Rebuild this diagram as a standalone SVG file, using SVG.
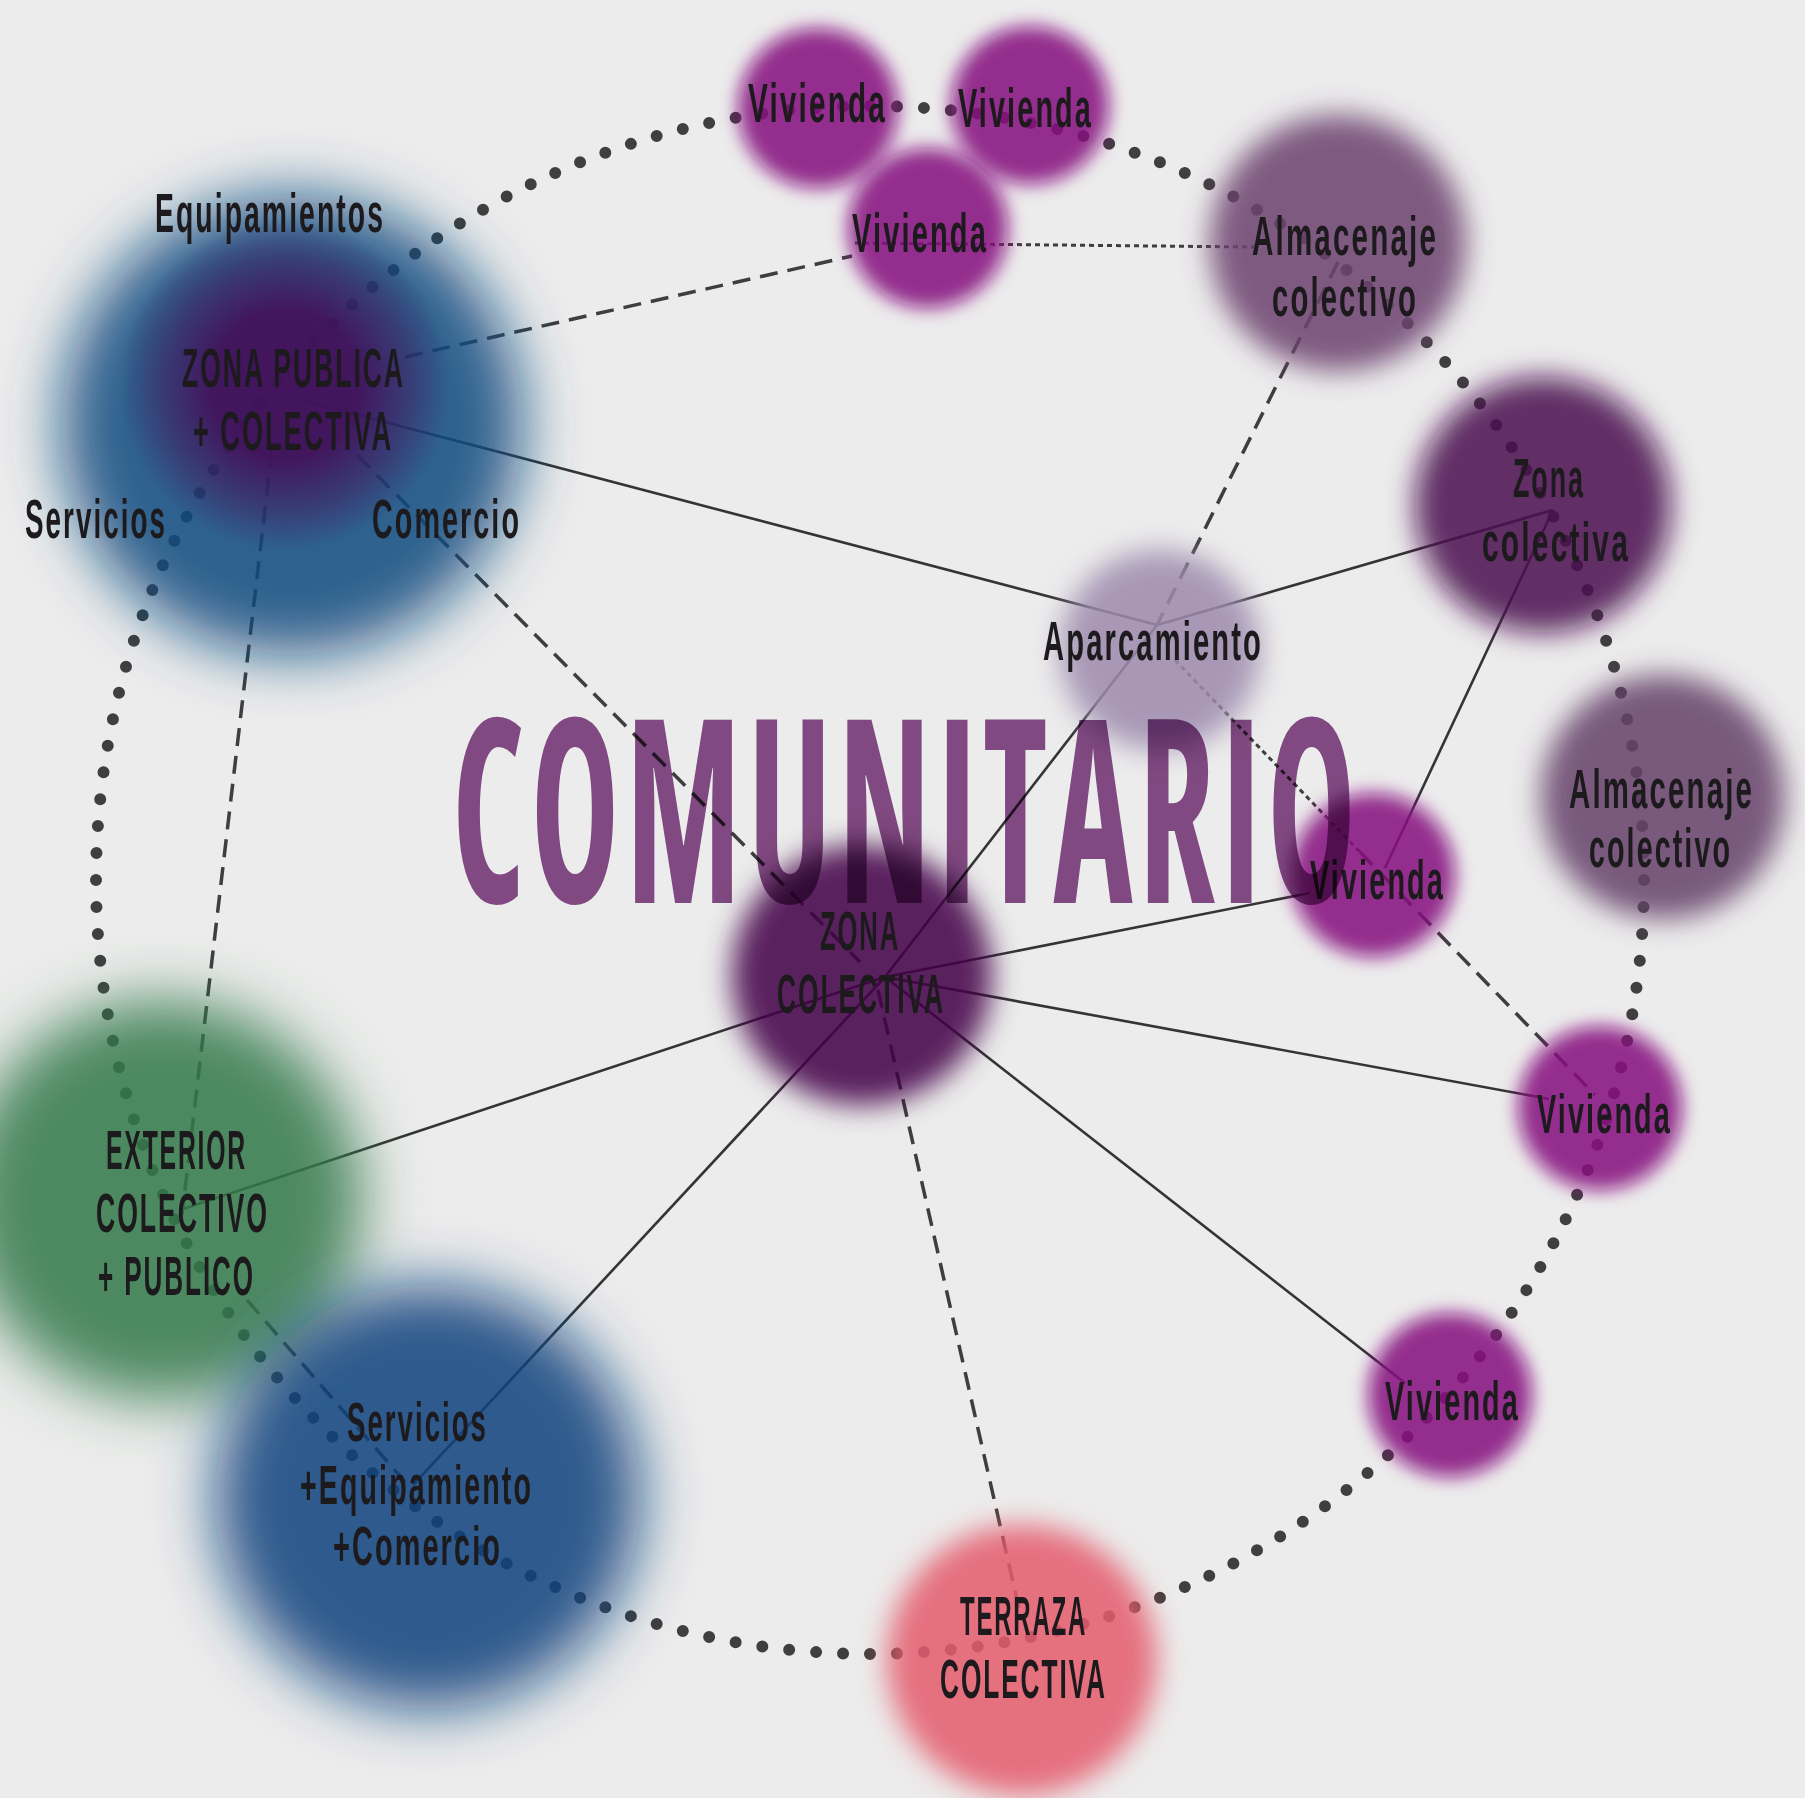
<svg xmlns="http://www.w3.org/2000/svg" width="1805" height="1798" viewBox="0 0 1805 1798">
<defs>
<style>
.lbl{font-family:"Liberation Sans",Arial,sans-serif;font-weight:700;font-size:55px;letter-spacing:4px;fill:#1d1a1d}
.title{font-family:"Open Sans","Liberation Sans",Arial,sans-serif;font-stretch:75%;font-weight:700;font-size:256px;letter-spacing:10px;fill:#8a4f8b;mix-blend-mode:multiply}
.solid{fill:none;stroke:#343434;stroke-width:2.6}
.dash{fill:none;stroke:#3e3e3e;stroke-width:3.5;stroke-dasharray:18 10}
.fine{fill:none;stroke:#3e3e3e;stroke-width:3;stroke-dasharray:5 4}
.ring{fill:none;stroke:#3f3f3f;stroke-width:12;stroke-linecap:round}
.blob{fill-opacity:0.86}
.viv{fill:#86087f}
</style>
<filter id="b9" x="-50%" y="-50%" width="200%" height="200%"><feGaussianBlur stdDeviation="9"/></filter>
<filter id="b14" x="-50%" y="-50%" width="200%" height="200%"><feGaussianBlur stdDeviation="14"/></filter>
<filter id="b30" x="-50%" y="-50%" width="200%" height="200%"><feGaussianBlur stdDeviation="30"/></filter>
<radialGradient id="zpInner" cx="0.5" cy="0.5" r="0.5">
  <stop offset="0" stop-color="#440e58" stop-opacity="0.92"/>
  <stop offset="0.45" stop-color="#440e58" stop-opacity="0.9"/>
  <stop offset="0.75" stop-color="#440e58" stop-opacity="0.45"/>
  <stop offset="1" stop-color="#440e58" stop-opacity="0"/>
</radialGradient>
</defs>
<rect width="1805" height="1798" fill="#ececec"/>

<g id="connectors">
  <circle class="ring" cx="870" cy="880" r="774" pathLength="180" stroke-dasharray="0 1"/>
  <path class="solid" d="M282 395 L1157 625"/>
  <path class="solid" d="M1157 625 L1553 510"/>
  <path class="solid" d="M1553 510 L1385 868"/>
  <path class="solid" d="M885 977 L1157 625"/>
  <path class="solid" d="M885 977 L1310 893"/>
  <path class="solid" d="M885 977 L1549 1099"/>
  <path class="solid" d="M885 977 L1405 1383"/>
  <path class="solid" d="M885 977 L180 1210"/>
  <path class="solid" d="M885 977 L413 1485"/>
  <path class="dash" d="M405 357 L852 256"/>
  <path class="dash" d="M357 455 L860 962"/>
  <path class="dash" d="M272 450 L182 1215"/>
  <path class="dash" d="M878 990 L1020 1613"/>
  <path class="dash" d="M1338 262 L1157 625"/>
  <path class="dash" d="M1360 852 L1595 1095"/>
  <path class="dash" d="M247 1300 L405 1482"/>
  <path class="fine" d="M855 243 L1255 247"/>
  <path class="fine" d="M1175 660 L1360 852"/>
</g>

<g id="node-zona-publica">
  <circle class="blob" cx="292" cy="425" r="230" fill="#12497f" filter="url(#b30)"/>
  <circle cx="285" cy="385" r="165" fill="url(#zpInner)"/>
  <text class="lbl" x="155" y="232" font-size="50" textLength="230" lengthAdjust="spacingAndGlyphs">Equipamientos</text>
  <text class="lbl" x="182" y="387" font-size="57" textLength="223" lengthAdjust="spacingAndGlyphs">ZONA PUBLICA</text>
  <text class="lbl" x="193" y="450" font-size="57" textLength="200" lengthAdjust="spacingAndGlyphs">+ COLECTIVA</text>
  <text class="lbl" x="25" y="538" textLength="142" lengthAdjust="spacingAndGlyphs">Servicios</text>
  <text class="lbl" x="372" y="538" textLength="149" lengthAdjust="spacingAndGlyphs">Comercio</text>
</g>

<g id="node-vivienda-1">
  <circle class="blob viv" cx="818" cy="108" r="80" filter="url(#b9)"/>
  <text class="lbl" x="748" y="122" textLength="139" lengthAdjust="spacingAndGlyphs">Vivienda</text>
</g>
<g id="node-vivienda-2">
  <circle class="blob viv" cx="1030" cy="105" r="79" filter="url(#b9)"/>
  <text class="lbl" x="958" y="127" textLength="135" lengthAdjust="spacingAndGlyphs">Vivienda</text>
</g>
<g id="node-vivienda-3">
  <circle class="blob viv" cx="928" cy="228" r="80" filter="url(#b9)"/>
  <text class="lbl" x="852" y="252" textLength="136" lengthAdjust="spacingAndGlyphs">Vivienda</text>
</g>

<g id="node-almacenaje-1">
  <circle class="blob" cx="1338" cy="243" r="128" fill="#6c4270" filter="url(#b14)"/>
  <text class="lbl" x="1252" y="255" font-size="52" textLength="186" lengthAdjust="spacingAndGlyphs">Almacenaje</text>
  <text class="lbl" x="1272" y="316" font-size="52" textLength="146" lengthAdjust="spacingAndGlyphs">colectivo</text>
</g>

<g id="node-zona-colectiva-1">
  <circle class="blob" cx="1543" cy="505" r="128" fill="#490a4e" filter="url(#b14)"/>
  <text class="lbl" x="1513" y="497" font-size="52" textLength="72" lengthAdjust="spacingAndGlyphs">Zona</text>
  <text class="lbl" x="1482" y="561" font-size="52" textLength="148" lengthAdjust="spacingAndGlyphs">colectiva</text>
</g>

<g id="node-aparcamiento">
  <circle class="blob" cx="1160" cy="650" r="100" fill="#9d8aad" filter="url(#b14)"/>
  <text class="lbl" x="1043" y="660" textLength="220" lengthAdjust="spacingAndGlyphs">Aparcamiento</text>
</g>

<g id="node-almacenaje-2">
  <circle class="blob" cx="1663" cy="797" r="122" fill="#67416a" filter="url(#b14)"/>
  <text class="lbl" x="1569" y="808" font-size="52" textLength="185" lengthAdjust="spacingAndGlyphs">Almacenaje</text>
  <text class="lbl" x="1589" y="867" font-size="52" textLength="143" lengthAdjust="spacingAndGlyphs">colectivo</text>
</g>

<g id="node-vivienda-4">
  <circle class="blob viv" cx="1373" cy="875" r="82" filter="url(#b9)"/>
  <text class="lbl" x="1310" y="899" textLength="135" lengthAdjust="spacingAndGlyphs">Vivienda</text>
</g>

<g id="node-zona-colectiva">
  <circle class="blob" cx="862" cy="975" r="130" fill="#420748" filter="url(#b14)"/>
  <text class="lbl" x="820" y="950" textLength="80" lengthAdjust="spacingAndGlyphs">ZONA</text>
  <text class="lbl" x="777" y="1013" textLength="168" lengthAdjust="spacingAndGlyphs">COLECTIVA</text>
</g>

<g id="node-vivienda-5">
  <circle class="blob viv" cx="1600" cy="1108" r="82" filter="url(#b9)"/>
  <text class="lbl" x="1537" y="1133" textLength="135" lengthAdjust="spacingAndGlyphs">Vivienda</text>
</g>
<g id="node-vivienda-6">
  <circle class="blob viv" cx="1450" cy="1395" r="82" filter="url(#b9)"/>
  <text class="lbl" x="1385" y="1420" textLength="135" lengthAdjust="spacingAndGlyphs">Vivienda</text>
</g>

<g id="node-exterior">
  <circle class="blob" cx="162" cy="1200" r="200" fill="#32794a" filter="url(#b30)"/>
  <text class="lbl" x="106" y="1169" font-size="53" textLength="141" lengthAdjust="spacingAndGlyphs">EXTERIOR</text>
  <text class="lbl" x="96" y="1232" font-size="53" textLength="173" lengthAdjust="spacingAndGlyphs">COLECTIVO</text>
  <text class="lbl" x="98" y="1295" font-size="53" textLength="157" lengthAdjust="spacingAndGlyphs">+ PUBLICO</text>
</g>

<g id="node-servicios">
  <circle class="blob" cx="428" cy="1497" r="212" fill="#0b427e" filter="url(#b30)"/>
  <text class="lbl" x="347" y="1441" textLength="141" lengthAdjust="spacingAndGlyphs">Servicios</text>
  <text class="lbl" x="300" y="1504" textLength="233" lengthAdjust="spacingAndGlyphs">+Equipamiento</text>
  <text class="lbl" x="333" y="1565" textLength="169" lengthAdjust="spacingAndGlyphs">+Comercio</text>
</g>

<g id="node-terraza">
  <circle class="blob" cx="1022" cy="1660" r="135" fill="#e45b6c" filter="url(#b14)"/>
  <text class="lbl" x="960" y="1635" textLength="127" lengthAdjust="spacingAndGlyphs">TERRAZA</text>
  <text class="lbl" x="940" y="1698" textLength="167" lengthAdjust="spacingAndGlyphs">COLECTIVA</text>
</g>

<g id="title">
  <text class="title" x="452" y="903" textLength="910" lengthAdjust="spacingAndGlyphs">COMUNITARIO</text>
</g>
</svg>
